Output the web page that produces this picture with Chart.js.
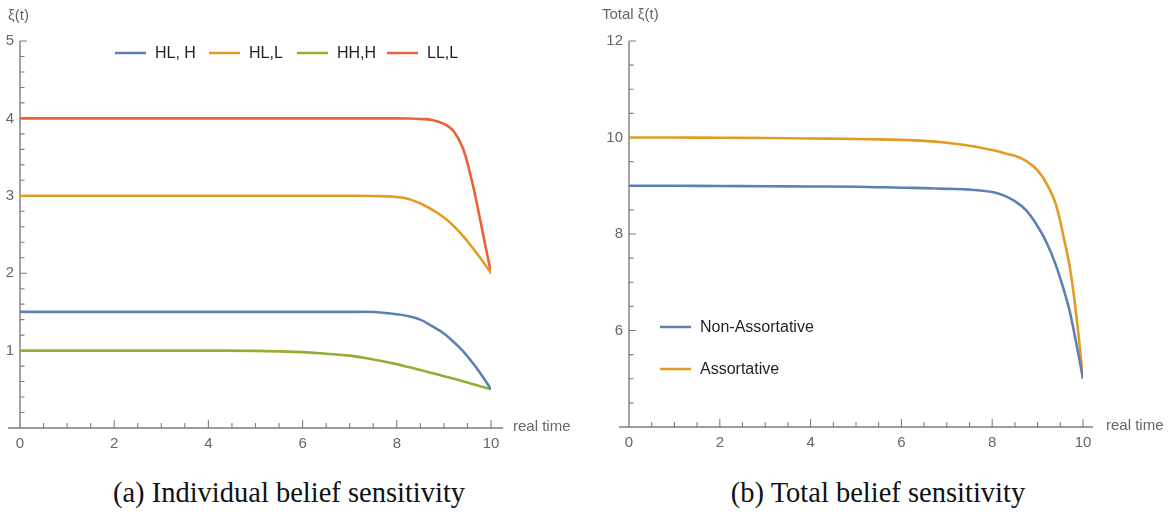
<!DOCTYPE html>
<html><head><meta charset="utf-8">
<script src="https://cdn.jsdelivr.net/npm/chart.js@4.4.1/dist/chart.umd.min.js"></script>
<style>
html,body{margin:0;padding:0;background:#fff;width:1174px;height:514px;overflow:hidden;}
#wrapA{position:absolute;left:0;top:0;width:587px;height:460px;}
#wrapB{position:absolute;left:587px;top:0;width:587px;height:460px;}
.cap{position:absolute;top:477px;font-family:"Liberation Serif","Times New Roman",serif;font-size:28.5px;line-height:31.5px;color:#111;white-space:nowrap;transform:translateX(-50%);}
</style></head><body>
<div id="wrapA"><canvas id="cA" width="587" height="460"></canvas></div>
<div id="wrapB"><canvas id="cB" width="587" height="460"></canvas></div>
<div class="cap" style="left:289px">(a) Individual belief sensitivity</div>
<div class="cap" style="left:878px">(b) Total belief sensitivity</div>
<script>
// ---- data ----
const timeA = [0,1,2,3,4,5,6,6.5,7,7.5,8,8.25,8.5,8.75,9,9.2,9.4,9.6,9.7,9.8,9.9,10];
const hlH   = [1.5,1.5,1.5,1.5,1.5,1.5,1.5,1.5,1.5,1.498,1.47,1.445,1.4,1.315,1.22,1.115,0.995,0.85,0.77,0.685,0.595,0.5];
const hlL   = [3,3,3,3,3,3,3,3,3,2.997,2.985,2.96,2.9,2.82,2.72,2.615,2.485,2.335,2.255,2.175,2.09,2.0];
const hhH   = [1,1,1,1,1,0.997,0.98,0.96,0.935,0.885,0.825,0.787,0.75,0.71,0.67,0.64,0.605,0.57,0.553,0.535,0.518,0.5];
const llL   = [4,4,4,4,4,4,4,4,4,4,4,3.998,3.992,3.98,3.93,3.84,3.62,3.18,2.9,2.6,2.3,2.0];
const seriesA = ["HL, H","HL,L","HH,H","LL,L"];

const timeB = [0,1,2,3,4,5,6,6.5,7,7.5,8,8.25,8.5,8.75,9,9.2,9.4,9.6,9.7,9.8,9.9,10];
const nonAssort = [9,9,8.995,8.99,8.985,8.98,8.96,8.95,8.935,8.92,8.87,8.8,8.68,8.49,8.16,7.82,7.36,6.77,6.43,5.98,5.5,5.0];
const assort    = [10,10,9.995,9.99,9.98,9.97,9.95,9.93,9.89,9.83,9.74,9.68,9.62,9.51,9.32,9.04,8.62,7.82,7.36,6.72,5.92,5.0];
const seriesB = ["Non-Assortative","Assortative"];

const xTicks = [0,2,4,6,8,10];
const yTicksA = [1,2,3,4,5];
const yTicksB = [6,8,10,12];

// ---- styling ----
const C = {blue:'#5E81B5', orange:'#E19C24', green:'#8FB032', red:'#EB6235'};
const SANS = '"Liberation Sans", Arial, sans-serif';
const AXIS = '#7d7d7d';
const TICKTXT = '#666';

function pts(t, v){ return t.map((x,i)=>({x:x, y:v[i]})); }

const mAxes = {
  id:'mAxes',
  beforeDatasetsDraw(chart, args, o){
    const ctx = chart.ctx, xs = chart.scales.x, ys = chart.scales.y;
    const y0 = ys.getPixelForValue(ys.min), x0 = xs.getPixelForValue(0);
    ctx.save();
    ctx.strokeStyle = AXIS; ctx.lineWidth = 1.4;
    ctx.beginPath();
    ctx.moveTo(xs.left - o.ext, y0); ctx.lineTo(xs.right + o.ext, y0);
    ctx.moveTo(x0, ys.top); ctx.lineTo(x0, y0);
    ctx.stroke();
    ctx.lineWidth = 1.1;
    ctx.beginPath();
    for (let v = xs.min; v <= xs.max + 1e-9; v += o.xMinor) {
      if (Math.abs(v) < 1e-9) continue;
      const major = Math.abs(v/2 - Math.round(v/2)) < 1e-6;
      const px = xs.getPixelForValue(v);
      ctx.moveTo(px, y0); ctx.lineTo(px, y0 - (major ? 8 : 5));
    }
    for (let v = ys.min; v <= ys.max + 1e-9; v += o.yMinor) {
      if (Math.abs(v - ys.min) < 1e-9) continue;
      const major = Math.abs(v/o.yMajor - Math.round(v/o.yMajor)) < 1e-6;
      const py = ys.getPixelForValue(v);
      ctx.moveTo(x0, py); ctx.lineTo(x0 + (major ? 7 : 4.5), py);
    }
    ctx.stroke();
    ctx.fillStyle = TICKTXT;
    ctx.font = '15px ' + SANS;
    ctx.textBaseline = 'middle'; ctx.textAlign = 'left';
    ctx.fillText(o.xLabel, xs.right + o.xLabelGap, y0 - 1);
    ctx.fillText(o.yLabel, o.yLabelX, o.yLabelY);
    ctx.restore();
  }
};

const mLegend = {
  id:'mLegend',
  afterDatasetsDraw(chart, args, o){
    const ctx = chart.ctx;
    ctx.save();
    ctx.font = '16px ' + SANS;
    ctx.textBaseline = 'middle'; ctx.textAlign = 'left';
    chart.data.datasets.forEach((ds, i) => {
      const p = o.pos[i];
      ctx.strokeStyle = ds.borderColor; ctx.lineWidth = 2.5;
      ctx.beginPath(); ctx.moveTo(p[0], p[1]); ctx.lineTo(p[0] + 31, p[1]); ctx.stroke();
      ctx.fillStyle = '#1f1f2a';
      ctx.fillText(ds.label, p[0] + 40, p[1] + 1);
    });
    ctx.restore();
  }
};

function scaleOpts(min, max, step, tickVals){
  return {
    type:'linear', min:min, max:max,
    grid:{display:false, drawTicks:false}, border:{display:false},
    afterBuildTicks(s){ s.ticks = tickVals.map(v=>({value:v})); },
    ticks:{color:TICKTXT, font:{family:SANS, size:15}, padding:6, maxRotation:0, autoSkip:false, stepSize:step},
  };
}

function build(id, datasets, yMin, yMax, yStep, yTicks, yWidth, padRight, xH, plugOpts){
  const xo = scaleOpts(0, 10, 2, xTicks);
  xo.ticks.padding = 7;
  xo.afterFit = s => { s.height = xH; };
  const yo = scaleOpts(yMin, yMax, yStep, yTicks);
  yo.afterFit = s => { s.width = yWidth; };
  return new Chart(document.getElementById(id), {
    type:'line',
    data:{datasets:datasets},
    options:{
      responsive:false, animation:false, events:[],
      layout:{padding:{left:0, right:padRight, top:41, bottom:0}},
      elements:{point:{radius:0}, line:{borderWidth:2.6, cubicInterpolationMode:'default', tension:0.4, capBezierPoints:true}},
      scales:{x:xo, y:yo},
      plugins:{legend:{display:false}, tooltip:{enabled:false}, mAxes:plugOpts.axes, mLegend:plugOpts.legend}
    },
    plugins:[mAxes, mLegend]
  });
}

build('cA', [
  {label:seriesA[0], data:pts(timeA, hlH), borderColor:C.blue},
  {label:seriesA[1], data:pts(timeA, hlL), borderColor:C.orange},
  {label:seriesA[2], data:pts(timeA, hhH), borderColor:C.green},
  {label:seriesA[3], data:pts(timeA, llL), borderColor:C.red}
], 0, 5, 1, yTicksA, 20, 96, 32, {
  axes:{ext:12, xMinor:0.5, yMinor:0.2, yMajor:1, xLabel:'real time', xLabelGap:22, yLabel:'ξ(t)', yLabelX:8, yLabelY:16},
  legend:{pos:[[115,53],[209,53],[297,53],[387,53]]}
});

build('cB', [
  {label:seriesB[0], data:pts(timeB, nonAssort), borderColor:C.blue},
  {label:seriesB[1], data:pts(timeB, assort), borderColor:C.orange}
], 4, 12, 2, yTicksB, 42, 91, 33, {
  axes:{ext:10, xMinor:0.5, yMinor:0.5, yMajor:2, xLabel:'real time', xLabelGap:23, yLabel:'Total ξ(t)', yLabelX:15, yLabelY:15},
  legend:{pos:[[73,327],[73,369]]}
});
</script>
</body></html>
